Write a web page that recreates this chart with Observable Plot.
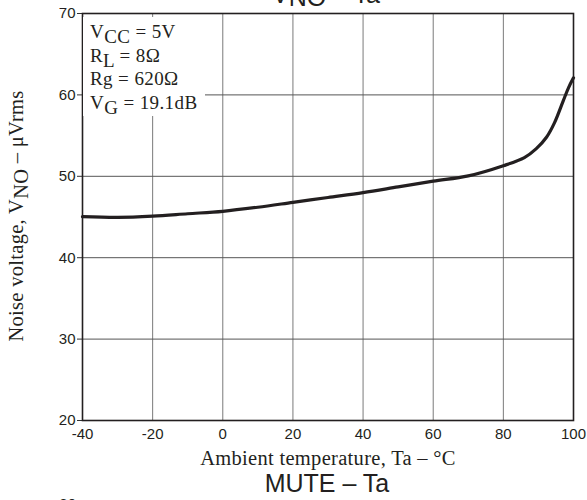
<!DOCTYPE html>
<html>
<head>
<meta charset="utf-8">
<script src="https://cdn.jsdelivr.net/npm/d3@7"></script>
<script src="https://cdn.jsdelivr.net/npm/@observablehq/plot@0.6"></script>
<style>
  html, body { margin: 0; padding: 0; background: #fff; }
  #chart { width: 587px; height: 500px; }
</style>
</head>
<body>
<div id="chart"></div>
<script>
// Data (Noise voltage vs ambient temperature)
const temps = [-40, -30, -20, -10, 0, 10, 20, 30, 40, 50, 60, 70, 80, 86, 89.4, 92.3, 94.6, 97.1, 98.6, 100];
const noise = [45.05, 44.95, 45.1, 45.4, 45.7, 46.2, 46.8, 47.4, 48.0, 48.7, 49.4, 50.05, 51.3, 52.3, 53.4, 54.8, 56.6, 59.3, 60.9, 62.1];

const xTicks = [-40, -20, 0, 20, 40, 60, 80, 100];
const yTicks = [20, 30, 40, 50, 60, 70];
const xGrid = [-20, 0, 20, 40, 60, 80];
const yGrid = [30, 40, 50, 60];

const legendLines = [
  ["V", "CC", " = 5V"],
  ["R", "L", " = 8Ω"],
  ["Rg = 620Ω", "", ""],
  ["V", "G", " = 19.1dB"]
];

const data = temps.map((t, i) => ({t, v: noise[i]}));

const plot = Plot.plot({
  width: 587,
  height: 500,
  marginLeft: 82,
  marginRight: 14,
  marginTop: 13,
  marginBottom: 80,
  style: {fontFamily: "'Liberation Sans', Arial, sans-serif", fontSize: "15px", color: "#231f20", background: "#fff"},
  x: {domain: [-40, 100]},
  y: {domain: [20, 70]},
  marks: [
    Plot.ruleX(xGrid, {stroke: "#7a7a7a", strokeWidth: 1}),
    Plot.ruleY(yGrid, {stroke: "#555", strokeWidth: 1}),
    Plot.axisY({ticks: yTicks, tickSize: 5, tickPadding: 2, label: null, fontSize: 15, stroke: "#333"}),
    Plot.axisX({ticks: xTicks, tickSize: 0, tickPadding: 8, label: null, fontSize: 15, tickFormat: d => String(d)}),
    Plot.line(data, {x: "t", y: "v", curve: "catmull-rom", stroke: "#231f20", strokeWidth: 3.2}),
    Plot.frame({stroke: "#231f20", strokeWidth: 1.6})
  ]
});

document.getElementById("chart").appendChild(plot);

const svg = d3.select(plot);
const serif = "'Liberation Serif', 'Times New Roman', serif";
const sans = "'Liberation Sans', Arial, sans-serif";

// white box behind the condition text
svg.append("rect")
  .attr("x", 83).attr("y", 17).attr("width", 122).attr("height", 99)
  .attr("fill", "#fff");

// condition text
const legG = svg.append("g")
  .attr("text-anchor", "start")
  .attr("font-family", serif).attr("font-size", 19).attr("fill", "#231f20")
  .attr("letter-spacing", "0.4px");
legendLines.forEach((ln, i) => {
  const t = legG.append("text").attr("x", 90).attr("y", 38 + i * 23.5).attr("text-anchor", "start")
    .attr("xml:space", "preserve").style("white-space", "pre");
  t.append("tspan").text(ln[0]);
  if (ln[1]) {
    t.append("tspan").attr("dy", 5).text(ln[1]);
    t.append("tspan").attr("dy", -5).text(ln[2]);
  }
});

// top title (partly cut off)
const title = svg.append("text")
  .attr("x", 326).attr("y", 3).attr("text-anchor", "middle")
  .attr("font-family", sans).attr("font-size", 25).attr("fill", "#231f20");
title.append("tspan").text("V");
title.append("tspan").attr("dy", 3).text("NO");
title.append("tspan").attr("dy", -3).text(" – Ta");

// x axis label
svg.append("text")
  .attr("x", 328).attr("y", 465).attr("text-anchor", "middle")
  .attr("font-family", serif).attr("font-size", 20.5).attr("letter-spacing", "0.3px").attr("fill", "#231f20")
  .text("Ambient temperature, Ta – °C");

// y axis label
const yl = svg.append("text")
  .attr("transform", "translate(23,216) rotate(-90)")
  .attr("text-anchor", "middle")
  .attr("font-family", serif).attr("font-size", 20.5).attr("letter-spacing", "0.3px").attr("fill", "#231f20");
yl.append("tspan").text("Noise voltage, V");
yl.append("tspan").attr("dy", 5).text("NO");
yl.append("tspan").attr("dy", -5).text(" – μVrms");

// next chart title
svg.append("text")
  .attr("x", 327).attr("y", 492).attr("text-anchor", "middle")
  .attr("font-family", sans).attr("font-size", 25).attr("fill", "#231f20")
  .text("MUTE – Ta");

// next chart's top tick label (cut off)
svg.append("text")
  .attr("x", 76).attr("y", 509).attr("text-anchor", "end")
  .attr("font-family", sans).attr("font-size", 15).attr("fill", "#231f20")
  .text("80");
</script>
</body>
</html>
